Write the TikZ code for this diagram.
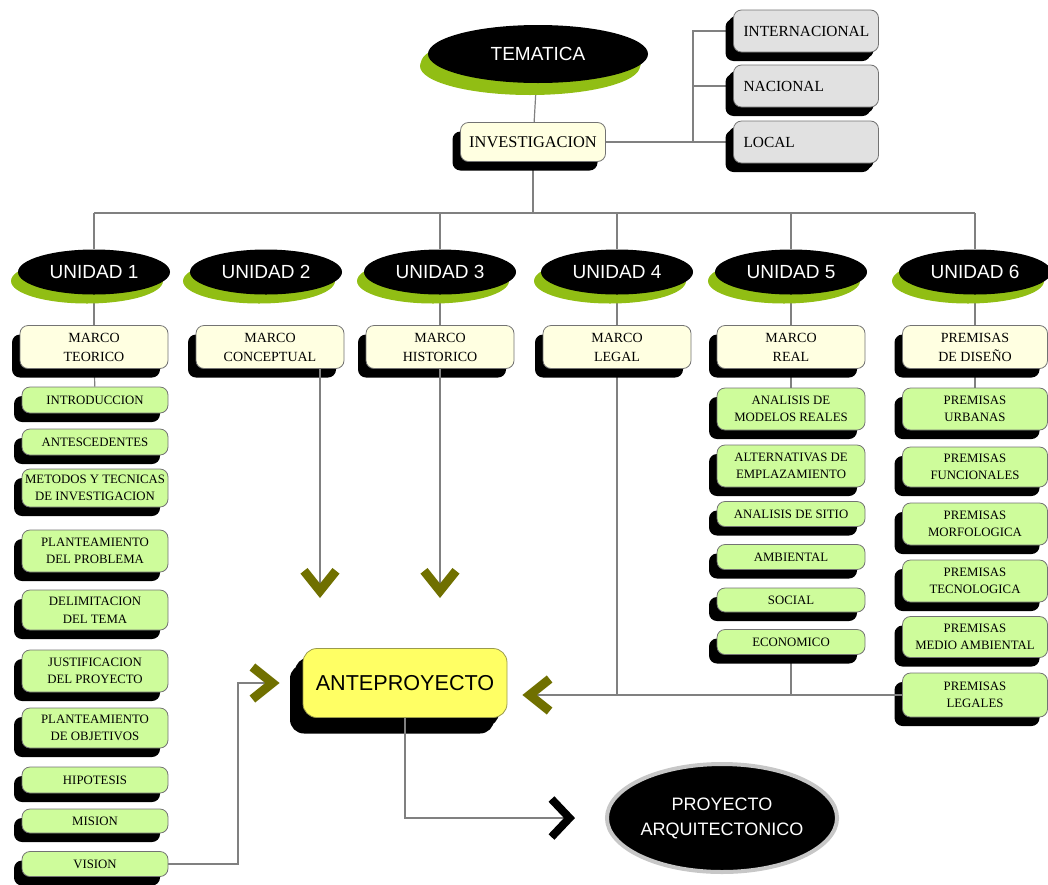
\documentclass[tikz,border=0pt]{standalone}
\usepackage{fontspec}
\setmainfont{Liberation Serif}
\setsansfont{Liberation Sans}
\usetikzlibrary{shapes.geometric,shadows,arrows.meta,backgrounds}
\definecolor{linegray}{RGB}{128,128,128}
\definecolor{ovalgreen}{RGB}{145,190,20}
\definecolor{arrowolive}{RGB}{112,112,0}
\definecolor{cream}{RGB}{255,255,225}
\definecolor{paleverde}{RGB}{206,252,155}
\definecolor{scopegrey}{RGB}{225,225,225}
\definecolor{anteyellow}{RGB}{255,255,100}
\tikzset{
  link/.style={draw=linegray,line width=0.6pt},
  olivetip/.style={-{Straight Barb[length=10pt,width=16pt,line width=4.5pt,color=arrowolive]}},
  blacktip/.style={-{Straight Barb[length=9pt,width=19pt,line width=4pt,color=black]}},
  unitoval/.style={ellipse,fill=black,text=white,inner sep=0pt,
    minimum width=76pt,minimum height=22.5pt,font=\sffamily\fontsize{9.5}{11}\selectfont,
    drop shadow={shadow xshift=-3.5pt,shadow yshift=-4.5pt,fill=ovalgreen,opacity=1}},
  plainbox/.style={rectangle,rounded corners=4pt,draw=black!55,line width=0.4pt,
    align=center,inner sep=0.5pt,
    drop shadow={shadow xshift=-4pt,shadow yshift=-4.5pt,fill=black,opacity=1}},
  marcobox/.style={plainbox,fill=cream,minimum width=74pt,minimum height=21.5pt,
    font=\fontsize{7}{9.5}\selectfont},
  itembox/.style={plainbox,fill=paleverde,minimum width=73pt,
    font=\fontsize{6.4}{8.8}\selectfont},
  scopebox/.style={plainbox,fill=scopegrey,text width=62.5pt,align=left,inner xsep=5pt,
    minimum height=21pt,font=\fontsize{7.7}{9}\selectfont,
    drop shadow={shadow xshift=-2.5pt,shadow yshift=-3pt,fill=black,opacity=1}}
}

\begin{document}
\begin{tikzpicture}[x=0.5pt,y=-0.5pt]
  \useasboundingbox (0,0) rectangle (1048,884);
  % top part
  \node[unitoval,minimum width=110pt,minimum height=29pt,font=\sffamily\fontsize{9.5}{11}\selectfont,
    drop shadow={shadow xshift=-4pt,shadow yshift=-6pt,fill=ovalgreen,opacity=1}] (tema) at (538,54) {TEMATICA};
  \node[plainbox,fill=cream,minimum width=72.5pt,minimum height=19.5pt,
    font=\fontsize{8.2}{10}\selectfont] (inv) at (533,142) {INVESTIGACION};
  \node[scopebox] (intl) at (806,31) {INTERNACIONAL};
  \node[scopebox] (nac) at (806,86) {NACIONAL};
  \node[scopebox] (loc) at (806,142) {LOCAL};
  \coordinate (branch) at (693,142);
  \coordinate (bar) at (533,213);

  % units
  \foreach \n/\x in {1/94,2/266,3/440,4/617,5/791,6/975}
    \node[unitoval] (u\n) at (\x,272) {UNIDAD \n};

  \node[marcobox] (mteo) at (94,347) {MARCO\\TEORICO};
  \node[marcobox] (mcon) at (270,347) {MARCO\\CONCEPTUAL};
  \node[marcobox] (mhis) at (440,347) {MARCO\\HISTORICO};
  \node[marcobox] (mleg) at (617,347) {MARCO\\LEGAL};
  \node[marcobox] (mrea) at (791,347) {MARCO\\REAL};
  \node[marcobox,minimum width=72.5pt] (mdis) at (975,347) {PREMISAS\\DE DISEÑO};

  % unidad 1
  \node[itembox,minimum height=13pt] (intro) at (95,400) {INTRODUCCION};
  \node[itembox,minimum height=13pt] (antec) at (95,442) {ANTESCEDENTES};
  \node[itembox,minimum height=19pt] (metod) at (95,488) {METODOS Y TECNICAS\\DE INVESTIGACION};
  \node[itembox,minimum height=21pt] (pprob) at (95,551) {PLANTEAMIENTO\\DEL PROBLEMA};
  \node[itembox,minimum height=20pt] (delim) at (95,610) {DELIMITACION\\DEL TEMA};
  \node[itembox,minimum height=21pt] (justi) at (95,671) {JUSTIFICACION\\DEL PROYECTO};
  \node[itembox,minimum height=20pt] (pobje) at (95,728) {PLANTEAMIENTO\\DE OBJETIVOS};
  \node[itembox,minimum height=13pt] (hipo) at (95,780) {HIPOTESIS};
  \node[itembox,minimum height=12pt] (mis) at (95,821) {MISION};
  \node[itembox,minimum height=12.5pt] (vis) at (95,864) {VISION};

  % unidad 5
  \node[itembox,minimum width=74pt,minimum height=21pt] (amr) at (791,409) {ANALISIS DE\\MODELOS REALES};
  \node[itembox,minimum width=74pt,minimum height=21pt] (alt) at (791,466) {ALTERNATIVAS DE\\EMPLAZAMIENTO};
  \node[itembox,minimum width=74pt,minimum height=12.5pt] (sitio) at (791,514) {ANALISIS DE SITIO};
  \node[itembox,minimum width=74pt,minimum height=12.5pt] (amb) at (791,557) {AMBIENTAL};
  \node[itembox,minimum width=74pt,minimum height=12pt] (soc) at (791,600) {SOCIAL};
  \node[itembox,minimum width=74pt,minimum height=12.5pt] (eco) at (791,642) {ECONOMICO};

  % unidad 6
  \node[itembox,minimum width=72.5pt,minimum height=21pt] (purb) at (975,409) {PREMISAS\\URBANAS};
  \node[itembox,minimum width=72.5pt,minimum height=20pt] (pfun) at (975,467) {PREMISAS\\FUNCIONALES};
  \node[itembox,minimum width=72.5pt,minimum height=21pt] (pmor) at (975,524) {PREMISAS\\MORFOLOGICA};
  \node[itembox,minimum width=72.5pt,minimum height=21pt] (ptec) at (975,581) {PREMISAS\\TECNOLOGICA};
  \node[itembox,minimum width=72.5pt,minimum height=20.5pt] (pmed) at (975,637) {PREMISAS\\MEDIO AMBIENTAL};
  \node[itembox,minimum width=72.5pt,minimum height=22pt] (pleg) at (975,695) {PREMISAS\\LEGALES};

  % results
  \node[plainbox,fill=anteyellow,draw=arrowolive!70,rounded corners=7pt,minimum width=102pt,
    minimum height=34.5pt,font=\sffamily\fontsize{10.8}{13}\selectfont,
    drop shadow={shadow xshift=-6.5pt,shadow yshift=-8pt,fill=black,opacity=1}] (ante) at (405,683) {ANTEPROYECTO};
  \node[ellipse,fill=black,draw=black!22,line width=2pt,text=white,align=center,inner sep=0pt,
    minimum width=108pt,minimum height=54pt,font=\sffamily\fontsize{9}{12.5}\selectfont] (proy) at (722,818) {PROYECTO\\ARQUITECTONICO};

  \coordinate (tipA) at (320,598);
  \coordinate (tipB) at (440,598);
  \coordinate (elbow) at (238,683);

  % connectors
  \begin{scope}[on background layer]
    \draw[link] (tema) -- (inv);
    \draw[link] (inv.east) -- (loc.west);
    \draw[link] (intl.west) -| (branch);
    \draw[link] (nac.west) -- (nac.west -| branch);
    \draw[link] (inv.south) -- (bar);
    \draw[link] (u1 |- bar) -- (u6 |- bar);
    \foreach \u in {u1,u3,u4,u5,u6}
      \draw[link] (\u |- bar) -- (\u.north);
    \draw[link] (u1) -- (mteo);
    \draw[link] (u3) -- (mhis);
    \draw[link] (u4) -- (mleg);
    \draw[link] (u5) -- (mrea);
    \draw[link] (u6) -- (mdis);
    \draw[link] (mteo) -- (intro);
    \draw[link] (mrea) -- (amr);
    \draw[link] (mdis) -- (purb);
    \draw[link] (mleg.south) -- (mleg.south |- pleg.west);
    \draw[link] (eco.south) -- (eco.south |- pleg.west);
  \end{scope}
  \draw[link,olivetip] (mcon.south -| tipA) -- (tipA);
  \draw[link,olivetip] (mhis.south) -- (tipB);
  \draw[link,olivetip,shorten >=7.5pt] (pleg.west) -- (pleg.west -| ante.east);
  \draw[link,olivetip,shorten >=11.5pt] (vis.east) -| (elbow) -- (ante.west);
  \draw[link,blacktip,shorten >=15pt] (ante.south) |- (proy.west);
\end{tikzpicture}
\end{document}
